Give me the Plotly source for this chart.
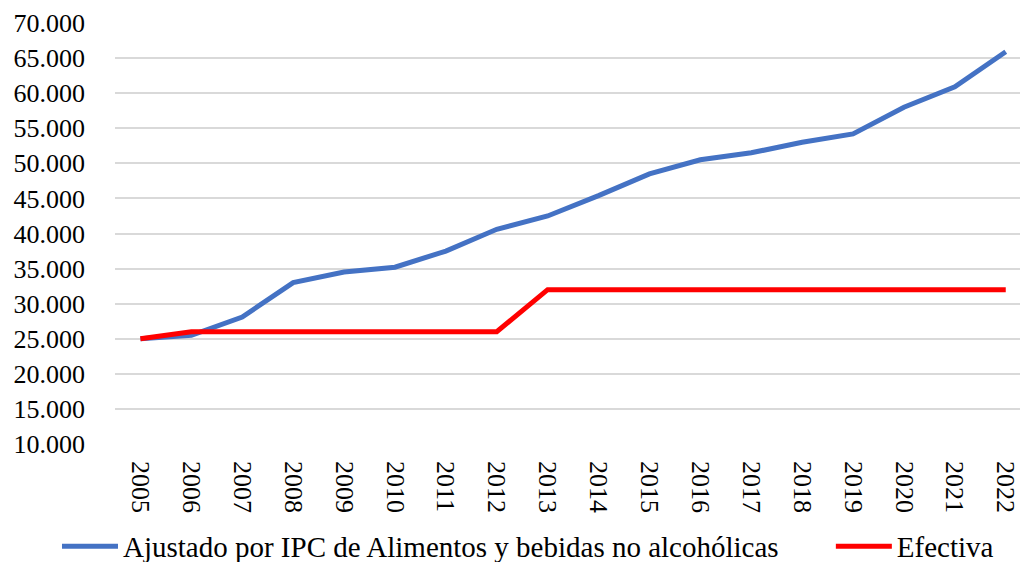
import plotly.graph_objects as go

years = [str(y) for y in range(2005, 2023)]
ajustado = [25000, 25500, 28100, 33000, 34500, 35200, 37500, 40600, 42500,
            45400, 48500, 50500, 51500, 53000, 54200, 58000, 60900, 65900]
efectiva = [25000, 26000, 26000, 26000, 26000, 26000, 26000, 26000, 32000,
            32000, 32000, 32000, 32000, 32000, 32000, 32000, 32000, 32000]
series_names = ["Ajustado por IPC de Alimentos y bebidas no alcohólicas", "Efectiva"]
y_ticks = list(range(10000, 70001, 5000))

FONT = "'Liberation Serif', 'DejaVu Serif', serif"

fig = go.Figure()
fig.add_trace(go.Scatter(x=years, y=ajustado, mode="lines", name=series_names[0],
                         line=dict(color="#4472C4", width=5), legend="legend"))
fig.add_trace(go.Scatter(x=years, y=efectiva, mode="lines", name=series_names[1],
                         line=dict(color="#FF0000", width=5), legend="legend2"))

leg_common = dict(orientation="h", xanchor="left", y=-0.243, yanchor="middle",
                  font=dict(family=FONT, size=29, color="black"), itemwidth=56,
                  bgcolor="rgba(0,0,0,0)")
fig.update_layout(
    width=1020, height=562,
    margin=dict(l=115, r=0, t=23, b=118, autoexpand=False),
    paper_bgcolor="white", plot_bgcolor="white",
    separators=",.",
    font=dict(family=FONT, size=26, color="black"),
    showlegend=True,
    legend=dict(x=-0.0641, **leg_common),
    legend2=dict(x=0.791, **leg_common),
)
fig.update_xaxes(type="category", range=[-0.5, 17.28], tickangle=90,
                 showgrid=False, showline=False, ticks="", ticklabelstandoff=16,
                 automargin=False, tickfont=dict(family=FONT, size=26, color="black"))
fig.update_yaxes(range=[10000, 70000], tickvals=y_ticks, tickformat=",d",
                 showgrid=True, gridcolor="#d9d9d9", gridwidth=2,
                 zeroline=False, showline=False, ticks="", ticklabelstandoff=29,
                 automargin=False, tickfont=dict(family=FONT, size=26, color="black"))

fig.write_html("out.html", config={"displayModeBar": False},
               post_script="document.body.style.margin='0';document.body.style.overflow='hidden';")
